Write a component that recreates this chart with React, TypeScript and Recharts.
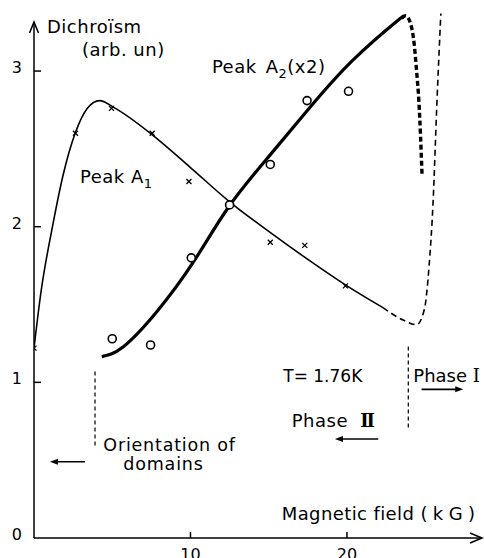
import React from 'react';
import { ComposedChart, Line, Scatter, XAxis, YAxis, ReferenceLine, ReferenceDot } from 'recharts';

// Peak A1 fitted curve (thin) – solid part then dashed part
const a1Solid = [
  { x: 0, y: 1.22 }, { x: 0.46, y: 1.59 }, { x: 1.18, y: 2.0 }, { x: 1.88, y: 2.34 },
  { x: 2.63, y: 2.6 }, { x: 3.4, y: 2.76 }, { x: 4.2, y: 2.81 }, { x: 5.2, y: 2.76 },
  { x: 7.5, y: 2.595 }, { x: 10, y: 2.38 }, { x: 12.5, y: 2.16 }, { x: 15, y: 1.97 },
  { x: 17.5, y: 1.79 }, { x: 20, y: 1.62 }, { x: 22.3, y: 1.48 },
];
const a1Dashed = [
  { x: 22.3, y: 1.48 }, { x: 23.6, y: 1.4 }, { x: 24.45, y: 1.37 }, { x: 24.95, y: 1.47 },
  { x: 25.25, y: 1.75 }, { x: 25.5, y: 2.15 }, { x: 25.75, y: 2.8 }, { x: 26.0, y: 3.37 },
];
// Peak A2 (x2) fitted curve (thick)
const a2Solid = [
  { x: 4.33, y: 1.165 }, { x: 5.69, y: 1.227 }, { x: 7.86, y: 1.455 }, { x: 10.2, y: 1.775 },
  { x: 12.46, y: 2.13 }, { x: 15.08, y: 2.46 }, { x: 17.64, y: 2.767 }, { x: 20.38, y: 3.07 },
  { x: 23.19, y: 3.32 }, { x: 23.5, y: 3.34 },
];
const a2Dashed = [
  { x: 23.5, y: 3.34 }, { x: 23.75, y: 3.355 }, { x: 24.05, y: 3.31 }, { x: 24.3, y: 3.17 },
  { x: 24.45, y: 3.0 }, { x: 24.6, y: 2.8 }, { x: 24.8, y: 2.33 },
];
// Measured points
const a1Points = [
  { x: 0, y: 1.22 }, { x: 2.65, y: 2.6 }, { x: 4.95, y: 2.76 }, { x: 7.55, y: 2.6 },
  { x: 9.9, y: 2.29 }, { x: 15.1, y: 1.9 }, { x: 17.3, y: 1.88 }, { x: 19.9, y: 1.62 },
];
const a2Points = [
  { x: 5.0, y: 1.28 }, { x: 7.45, y: 1.24 }, { x: 10.05, y: 1.8 }, { x: 12.5, y: 2.14 },
  { x: 15.1, y: 2.4 }, { x: 17.45, y: 2.81 }, { x: 20.1, y: 2.87 },
];
const xTicks = [10, 20];
const yTicks = [0, 1, 2, 3];

const X_MAX = 28.63;
const Y_MAX = 3.45;
const Y_AXIS_TOP = 3.315;
const FONT = '"DejaVu Sans", "Noto Sans", sans-serif';

const XTick = (p: any) => (
  <g>
    <line x1={p.x} y1={p.y} x2={p.x} y2={p.y - 6} stroke="#000" strokeWidth={1.5} />
    <text x={p.x} y={p.y + 22} textAnchor="middle" fontFamily={FONT} fontSize={16} fill="#000">
      {p.payload.value}
    </text>
  </g>
);

const YTick = (p: any) => (
  <g>
    {p.payload.value !== 0 && (
      <line x1={p.x} y1={p.y} x2={p.x + 7} y2={p.y} stroke="#000" strokeWidth={1.5} />
    )}
    <text x={p.x - 12} y={p.y + 2} textAnchor="end" fontFamily={FONT} fontSize={16} fill="#000">
      {p.payload.value}
    </text>
  </g>
);

const Cross = (p: any) => (
  <g stroke="#000" strokeWidth={1.3}>
    <line x1={p.cx - 2.5} y1={p.cy - 2.5} x2={p.cx + 2.5} y2={p.cy + 2.5} />
    <line x1={p.cx - 2.5} y1={p.cy + 2.5} x2={p.cx + 2.5} y2={p.cy - 2.5} />
  </g>
);

const Ring = (p: any) => (
  <circle cx={p.cx} cy={p.cy} r={4} fill="#fff" stroke="#000" strokeWidth={1.6} />
);

const txt = (content: React.ReactNode, extra: any = {}) => (p: any) => (
  <text
    x={p.cx}
    y={p.cy}
    fontFamily={FONT}
    fontSize={18}
    letterSpacing={0.5}
    fill="#000"
    {...extra}
  >
    {content}
  </text>
);

const arrowLine = (p: any) => {
  const { x1, y1, x2, y2 } = p;
  const dir = x2 > x1 ? 1 : -1;
  return (
    <g>
      <line x1={x1} y1={y1} x2={x2 - dir * 4} y2={y2} stroke="#000" strokeWidth={1.6} />
      <polygon
        points={`${x2},${y2} ${x2 - dir * 8},${y2 - 3} ${x2 - dir * 8},${y2 + 3}`}
        fill="#000"
      />
    </g>
  );
};

const UpArrow = (p: any) => (
  <polyline
    points={`${p.cx - 4.5},${p.cy + 11} ${p.cx},${p.cy} ${p.cx + 4.5},${p.cy + 11}`}
    fill="none"
    stroke="#000"
    strokeWidth={1.6}
  />
);
const RightArrow = (p: any) => (
  <polyline
    points={`${p.cx - 12},${p.cy - 5} ${p.cx},${p.cy} ${p.cx - 12},${p.cy + 5}`}
    fill="none"
    stroke="#000"
    strokeWidth={1.6}
  />
);

export default function App() {
  return (
    <div style={{ position: 'absolute', left: 0, top: 0, background: '#fff' }}>
      <ComposedChart width={484} height={558} margin={{ top: 1, right: 2, bottom: 0, left: 0 }}>
        <XAxis
          type="number"
          dataKey="x"
          domain={[0, X_MAX]}
          ticks={xTicks}
          interval={0}
          height={20}
          allowDataOverflow
          axisLine={{ stroke: '#000', strokeWidth: 1.5 }}
          tickLine={false}
          tickSize={0}
          tickMargin={0}
          tick={(p: any) => <XTick {...p} />}
        />
        <YAxis
          type="number"
          dataKey="y"
          domain={[0, Y_MAX]}
          ticks={yTicks}
          interval={0}
          width={34}
          allowDataOverflow
          axisLine={false}
          tickLine={false}
          tickSize={0}
          tickMargin={0}
          tick={(p: any) => <YTick {...p} />}
        />

        <ReferenceLine segment={[{ x: 0, y: 0 }, { x: 0, y: Y_AXIS_TOP }]}
          stroke="#000" strokeWidth={1.5} ifOverflow="visible" />

        <Line data={a1Solid} dataKey="y" type="monotone" stroke="#000" strokeWidth={1.6}
          dot={false} activeDot={false} isAnimationActive={false} />
        <Line data={a1Dashed} dataKey="y" type="monotone" stroke="#000" strokeWidth={1.6}
          strokeDasharray="6 4" dot={false} activeDot={false} isAnimationActive={false} />
        <Line data={a2Solid} dataKey="y" type="natural" stroke="#000" strokeWidth={3.2}
          dot={false} activeDot={false} isAnimationActive={false} />
        <Line data={a2Dashed} dataKey="y" type="monotone" stroke="#000" strokeWidth={3.4}
          strokeDasharray="5 3" dot={false} activeDot={false} isAnimationActive={false} />

        <Scatter data={a1Points} dataKey="y" shape={Cross} isAnimationActive={false} />
        <Scatter data={a2Points} dataKey="y" shape={Ring} isAnimationActive={false} />

        <ReferenceLine segment={[{ x: 3.9, y: 1.07 }, { x: 3.9, y: 0.58 }]}
          stroke="#000" strokeWidth={1.2} strokeDasharray="4 3" ifOverflow="visible" />
        <ReferenceLine segment={[{ x: 23.92, y: 1.23 }, { x: 23.92, y: 0.69 }]}
          stroke="#000" strokeWidth={1.2} strokeDasharray="4 3" ifOverflow="visible" />

        <ReferenceLine segment={[{ x: 3.26, y: 0.49 }, { x: 1.02, y: 0.49 }]} shape={arrowLine} ifOverflow="visible" />
        <ReferenceLine segment={[{ x: 22.0, y: 0.636 }, { x: 19.23, y: 0.636 }]} shape={arrowLine} ifOverflow="visible" />
        <ReferenceLine segment={[{ x: 24.77, y: 0.955 }, { x: 27.43, y: 0.955 }]} shape={arrowLine} ifOverflow="visible" />

        <ReferenceDot x={0} y={Y_AXIS_TOP} shape={UpArrow} ifOverflow="visible" />
        <ReferenceDot x={X_MAX} y={0} shape={RightArrow} ifOverflow="visible" />

        <ReferenceDot x={0.83} y={3.244} ifOverflow="visible" shape={txt('Dichroïsm')} />
        <ReferenceDot x={3.07} y={3.097} ifOverflow="visible" shape={txt('(arb. un)')} />
        <ReferenceDot x={11.37} y={2.99} ifOverflow="visible"
          shape={txt(<>Peak<tspan dx={9}>A</tspan><tspan dy={5} fontSize={13}>2</tspan><tspan dy={-5}>(x2)</tspan></>)} />
        <ReferenceDot x={2.94} y={2.28} ifOverflow="visible"
          shape={txt(<>Peak A<tspan dy={5} fontSize={13}>1</tspan></>)} />
        <ReferenceDot x={15.93} y={1.004} ifOverflow="visible" shape={txt('T= 1.76K', { letterSpacing: 0, fontSize: 17 })} />
        <ReferenceDot x={24.24} y={1.004} ifOverflow="visible"
          shape={txt(<>Phase <tspan fontFamily='"DejaVu Serif", serif'>I</tspan></>, { letterSpacing: 0 })} />
        <ReferenceDot x={16.47} y={0.715} ifOverflow="visible"
          shape={txt(<>Phase <tspan dx={6} fontFamily='"DejaVu Serif", serif' fontWeight="bold" letterSpacing={-2}>II</tspan></>)} />
        <ReferenceDot x={4.43} y={0.558} ifOverflow="visible" shape={txt('Orientation of', { fontSize: 17.5, letterSpacing: 0.8 })} />
        <ReferenceDot x={5.71} y={0.437} ifOverflow="visible" shape={txt('domains', { fontSize: 17.5, letterSpacing: 0.8 })} />
        <ReferenceDot x={15.83} y={0.116} ifOverflow="visible"
          shape={txt(<>Magnetic field (<tspan dx={5}>k</tspan><tspan dx={5}>G</tspan><tspan dx={5}>)</tspan></>, { letterSpacing: 0.4 })} />
      </ComposedChart>
    </div>
  );
}
